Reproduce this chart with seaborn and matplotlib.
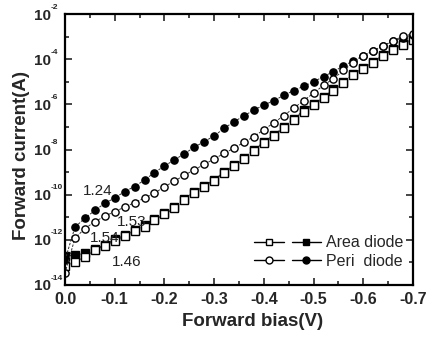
import numpy as np
import pandas as pd
import matplotlib
matplotlib.use("Agg")
import matplotlib.pyplot as plt
import seaborn as sns
from matplotlib.lines import Line2D
from matplotlib.legend_handler import HandlerTuple
from matplotlib.ticker import FixedLocator, FixedFormatter, MultipleLocator

# ---- data (log10 of current) ----
bias = [0.0, -0.02, -0.04, -0.06, -0.08, -0.10, -0.12, -0.14, -0.16, -0.18,
        -0.20, -0.22, -0.24, -0.26, -0.28, -0.30, -0.32, -0.34, -0.36, -0.38,
        -0.40, -0.42, -0.44, -0.46, -0.48, -0.50, -0.52, -0.54, -0.56, -0.58,
        -0.60, -0.62, -0.64, -0.66, -0.68, -0.70]

area_filled_log = [-12.70, -12.68, -12.60, -12.40, -12.22, -11.98, -11.80, -11.58, -11.36, -11.07,
                   -10.82, -10.55, -10.18, -9.88, -9.62, -9.33, -9.00, -8.68, -8.38, -8.00,
                   -7.67, -7.35, -7.01, -6.64, -6.27, -5.98, -5.68, -5.34, -5.02, -4.65,
                   -4.40, -4.13, -3.80, -3.54, -3.32, -3.10]
area_open_log = [-13.18, -12.96, -12.77, -12.44, -12.27, -12.03, -11.85, -11.63, -11.41, -11.12,
                 -10.87, -10.60, -10.23, -9.93, -9.67, -9.38, -9.05, -8.73, -8.43, -8.05,
                 -7.72, -7.40, -7.06, -6.69, -6.32, -6.03, -5.73, -5.39, -5.07, -4.70,
                 -4.45, -4.18, -3.85, -3.59, -3.37, -3.15]
peri_filled_log = [-12.90, -11.44, -11.04, -10.70, -10.38, -10.15, -9.86, -9.64, -9.35, -9.02,
                   -8.73, -8.46, -8.19, -7.90, -7.65, -7.40, -7.06, -6.77, -6.51, -6.25,
                   -6.03, -5.84, -5.60, -5.39, -5.20, -5.00, -4.77, -4.55, -4.30, -4.07,
                   -3.85, -3.62, -3.40, -3.20, -3.05, -2.92]
peri_open_log = [-13.47, -11.93, -11.50, -11.20, -10.95, -10.75, -10.55, -10.35, -10.15, -9.93,
                 -9.65, -9.40, -9.14, -8.90, -8.66, -8.42, -8.17, -7.94, -7.68, -7.43,
                 -7.12, -6.82, -6.50, -6.17, -5.84, -5.50, -5.16, -4.86, -4.50, -4.15,
                 -3.85, -3.65, -3.42, -3.18, -2.98, -2.88]

ideality_labels = ["1.24", "1.53", "1.54", "1.46"]
ideality_pos = [(-0.065, -9.83), (-0.135, -11.2), (-0.08, -11.91), (-0.125, -12.97)]

xticks = [0.0, -0.1, -0.2, -0.3, -0.4, -0.5, -0.6, -0.7]
xticklabels = ["0.0", "-0.1", "-0.2", "-0.3", "-0.4", "-0.5", "-0.6", "-0.7"]
yexp = [-2, -4, -6, -8, -10, -12, -14]

# ---- style ----
sns.set_theme(style="ticks")
plt.rcParams["font.family"] = ["Liberation Sans", "DejaVu Sans"]

fig = plt.figure(figsize=(4.44, 3.38), dpi=100)
ax = fig.add_axes([65/444, 1-285/338, (413-65)/444, (285-14)/338])

df = pd.DataFrame({"bias": bias,
                   "area_f": np.power(10.0, area_filled_log),
                   "area_o": np.power(10.0, area_open_log),
                   "peri_f": np.power(10.0, peri_filled_log),
                   "peri_o": np.power(10.0, peri_open_log)})

line_kw = dict(color="#333333", linewidth=0.7, linestyle=(0, (2.5, 1.5)),
               markersize=5.2, markeredgewidth=1.0, markeredgecolor="black",
               sort=False, estimator=None, legend=False)

sns.lineplot(data=df, x="bias", y="area_f", marker="s", markerfacecolor="black", ax=ax, **line_kw)
sns.lineplot(data=df, x="bias", y="area_o", marker="s", markerfacecolor="white", ax=ax, **line_kw)
sns.lineplot(data=df, x="bias", y="peri_f", marker="o", markerfacecolor="black", ax=ax, **line_kw)
sns.lineplot(data=df, x="bias", y="peri_o", marker="o", markerfacecolor="white", ax=ax, **line_kw)

ax.set_yscale("log")
ax.set_xlim(0.0, -0.7)
ax.set_ylim(1e-14, 1e-2)

ax.xaxis.set_major_locator(FixedLocator(xticks))
ax.xaxis.set_major_formatter(FixedFormatter(xticklabels))
ax.xaxis.set_minor_locator(MultipleLocator(0.05))
ax.yaxis.set_major_locator(FixedLocator([10.0**e for e in yexp]))
ax.yaxis.set_major_formatter(FixedFormatter(["10"] * len(yexp)))
ax.yaxis.set_minor_locator(FixedLocator([10.0**e for e in range(-13, -2, 2)]))
ax.yaxis.set_minor_formatter(FixedFormatter([""] * 6))

ax.tick_params(which="both", direction="in", top=True, right=True, width=1.2)
ax.tick_params(which="major", length=5)
ax.tick_params(axis="x", which="major", labelsize=11.5, pad=5)
ax.tick_params(axis="y", which="major", labelsize=11, pad=10)
ax.tick_params(which="minor", length=3)
for lab in ax.get_xticklabels() + ax.get_yticklabels():
    lab.set_fontweight("bold")
for sp in ax.spines.values():
    sp.set_linewidth(1.6)
    sp.set_color("black")

# small superscript exponents next to the "10" tick labels
ytrans = ax.get_yaxis_transform()
for e in yexp:
    ax.annotate("%d" % e, xy=(0, 10.0**e), xycoords=ytrans,
                xytext=(-10.3, 2.5), textcoords="offset points",
                fontsize=6, fontweight="bold", ha="left", va="bottom",
                annotation_clip=False)

ax.set_xlabel("Forward bias(V)", fontsize=13.5, fontweight="bold")
ax.set_ylabel("Forward current(A)", fontsize=13.5, fontweight="bold")
ax.xaxis.set_label_coords((253 - 65) / 348, (285 - 313) / 271)
ax.yaxis.set_label_coords((30 - 65) / 348, (285 - 155) / 271)

for lab, (xv, ye) in zip(ideality_labels, ideality_pos):
    ax.text(xv, 10.0**ye, lab, fontsize=11, ha="center", va="center", color="#222222")

mk = dict(color="black", linewidth=1.0, markersize=5, markeredgewidth=1.0, markeredgecolor="black")
h_ao = Line2D([], [], marker="s", markerfacecolor="white", **mk)
h_af = Line2D([], [], marker="s", markerfacecolor="black", **mk)
h_po = Line2D([], [], marker="o", markerfacecolor="white", **mk)
h_pf = Line2D([], [], marker="o", markerfacecolor="black", **mk)
ax.legend([(h_ao, h_af), (h_po, h_pf)], ["Area diode", "Peri  diode"],
          handler_map={tuple: HandlerTuple(ndivide=None, pad=0.5)},
          loc="lower right", bbox_to_anchor=(1.0, 0.025), frameon=False,
          fontsize=11.5, handlelength=4.2, handletextpad=0.3, labelspacing=0.2,
          borderaxespad=0.2)

fig.savefig("out.png", dpi=100)
